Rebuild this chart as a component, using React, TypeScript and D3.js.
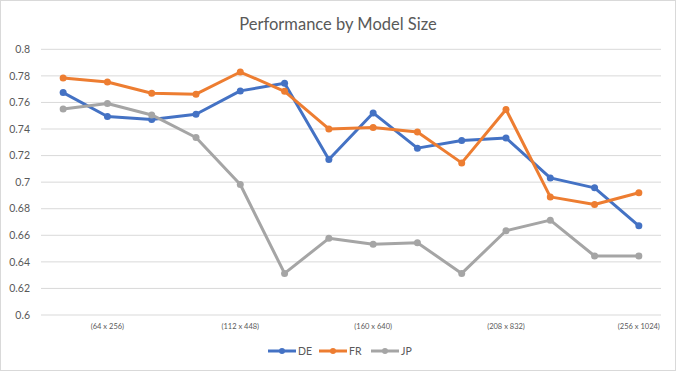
import React from "react";
import * as d3 from "d3";

const categories = [
  "(48 x 192)", "(64 x 256)", "(80 x 320)", "(96 x 384)", "(112 x 448)", "(128 x 512)", "(144 x 576)",
  "(160 x 640)", "(176 x 704)", "(192 x 768)", "(208 x 832)", "(224 x 896)", "(240 x 960)", "(256 x 1024)",
];
const shownLabels = ["(64 x 256)", "(112 x 448)", "(160 x 640)", "(208 x 832)", "(256 x 1024)"];
const seriesNames = ["DE", "FR", "JP"];
const deValues = [0.7674, 0.7494, 0.7471, 0.7511, 0.7687, 0.7744, 0.7171, 0.7521, 0.7256, 0.7313, 0.7333, 0.7032, 0.6957, 0.6671];
const frValues = [0.7784, 0.7754, 0.7669, 0.7662, 0.7829, 0.7684, 0.7401, 0.7411, 0.7378, 0.7145, 0.7547, 0.6889, 0.6832, 0.692];
const jpValues = [0.7551, 0.7592, 0.7506, 0.7336, 0.6982, 0.6313, 0.6577, 0.6532, 0.6544, 0.6313, 0.6634, 0.6714, 0.6444, 0.6444];
const colors = ["#4472C4", "#ED7D31", "#A5A5A5"];
const yTicks = [0.6, 0.62, 0.64, 0.66, 0.68, 0.7, 0.72, 0.74, 0.76, 0.78, 0.8];

const W = 676, H = 371;
const FONT = "Lato, 'Liberation Sans', sans-serif";

export default function App() {
  const x = d3.scaleBand<string>().domain(categories).range([41, 661]);
  const y = d3.scaleLinear().domain([0.6, 0.8]).range([315, 49.3]);
  const data = [deValues, frValues, jpValues];
  const line = d3.line<number>()
    .x((_, i) => (x(categories[i]) as number) + x.bandwidth() / 2)
    .y((d) => y(d));
  const legendX = [268, 319, 371];
  return (
    <div style={{ position: "fixed", left: 0, top: 0 }}>
      <svg width={W} height={H} style={{ display: "block", fontFamily: FONT }}>
        <rect x={0.5} y={0.5} width={W - 1} height={H - 1} fill="#fff" stroke="#d9d9d9" />
        <text x={338} y={30} textAnchor="middle" fontSize={16.5} fill="#595959">Performance by Model Size</text>
        {yTicks.map((t) => (
          <g key={t}>
            <line x1={41} x2={661} y1={y(t)} y2={y(t)} stroke="#d9d9d9" strokeWidth={1} />
            <text x={30} y={y(t)} dy="0.35em" textAnchor="end" fontSize={10.5} fill="#595959">{d3.format("")(+t.toFixed(2))}</text>
          </g>
        ))}
        {categories.map((c) => shownLabels.includes(c) ? (
          <text key={c} x={(x(c) as number) + x.bandwidth() / 2} y={326} dy="0.35em" textAnchor="middle" fontSize={7.5} fill="#595959">{c}</text>
        ) : null)}
        {data.map((vals, si) => (
          <g key={si}>
            <path d={line(vals) || ""} fill="none" stroke={colors[si]} strokeWidth={3} strokeLinejoin="round" />
            {vals.map((v, i) => (
              <circle key={i} cx={(x(categories[i]) as number) + x.bandwidth() / 2} cy={y(v)} r={3.5} fill={colors[si]} />
            ))}
          </g>
        ))}
        {seriesNames.map((n, i) => (
          <g key={n} transform={`translate(${legendX[i]},351)`}>
            <line x1={0} x2={28} y1={0} y2={0} stroke={colors[i]} strokeWidth={3} />
            <circle cx={14} cy={0} r={3} fill={colors[i]} />
            <text x={30} y={0} dy="0.35em" fontSize={10.5} fill="#595959">{n}</text>
          </g>
        ))}
      </svg>
    </div>
  );
}
